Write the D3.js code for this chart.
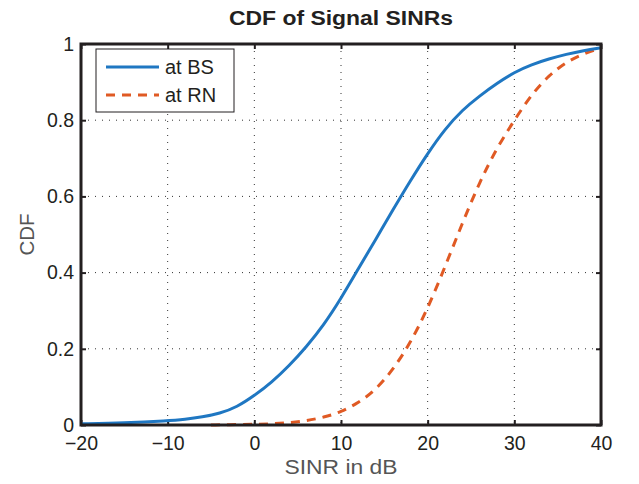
<!DOCTYPE html>
<html><head><meta charset="utf-8">
<script src="https://cdn.jsdelivr.net/npm/d3@7"></script>
<style>body{margin:0;background:#fff;} svg{display:block;}</style>
</head><body><div id="chart"></div>
<script>
const sinrBS = [-20,-15,-10,-8,-6,-4,-2,0,2,4,6,8,10,12,14,16,18,20,22,24,26,28,30,32,34,36,38,40];
const cdfBS  = [0.003,0.005,0.011,0.015,0.021,0.03,0.047,0.077,0.112,0.155,0.205,0.262,0.332,0.41,0.487,0.565,0.641,0.713,0.777,0.827,0.864,0.897,0.926,0.946,0.961,0.973,0.983,0.99];
const sinrRN = [-5,-2,0,2,4,6,8,10,12,14,16,18,20,22,24,26,28,30,32,34,36,38,40];
const cdfRN  = [0,0.001,0.002,0.003,0.006,0.011,0.02,0.034,0.058,0.092,0.145,0.215,0.305,0.415,0.53,0.638,0.728,0.8,0.868,0.918,0.953,0.975,0.99];
const xTicks = [-20,-10,0,10,20,30,40];
const yTicks = [0,0.2,0.4,0.6,0.8,1];
const seriesNames = ["at BS","at RN"];
const titleText = "CDF of Signal SINRs";
const xLabel = "SINR in dB";
const yLabel = "CDF";

const W = 639, H = 484;
const m = {left:81, right:38, top:44, bottom:59};
const iw = W - m.left - m.right, ih = H - m.top - m.bottom;
const font = "'Liberation Sans', Arial, Helvetica, sans-serif";

const svg = d3.select("#chart").append("svg").attr("width",W).attr("height",H)
  .style("font-family", font);
const g = svg.append("g").attr("transform",`translate(${m.left},${m.top})`);

const x = d3.scaleLinear().domain([-20,40]).range([0,iw]);
const y = d3.scaleLinear().domain([0,1]).range([ih,0]);

// grid
g.append("g").selectAll("line").data(xTicks.slice(1,-1)).join("line")
  .attr("x1",d=>x(d)).attr("x2",d=>x(d)).attr("y1",0).attr("y2",ih)
  .attr("stroke","#333").attr("stroke-width",1).attr("stroke-dasharray","1,6");
g.append("g").selectAll("line").data(yTicks.slice(1,-1)).join("line")
  .attr("y1",d=>y(d)).attr("y2",d=>y(d)).attr("x1",0).attr("x2",iw)
  .attr("stroke","#333").attr("stroke-width",1).attr("stroke-dasharray","1,6");

// axes
const fmtX = d => d < 0 ? "\u2212" + Math.abs(d) : String(d);
const xAxis = g.append("g").attr("transform",`translate(0,${ih})`)
  .call(d3.axisBottom(x).tickValues(xTicks).tickFormat(fmtX).tickSizeInner(-5).tickSizeOuter(0).tickPadding(11));
const yAxis = g.append("g")
  .call(d3.axisLeft(y).tickValues(yTicks).tickFormat(d=>d===0?"0":d===1?"1":d3.format(".1f")(d)).tickSizeInner(-5).tickSizeOuter(0).tickPadding(7));
const xTop = g.append("g").call(d3.axisTop(x).tickValues(xTicks).tickFormat("").tickSizeInner(-5).tickSizeOuter(0));
const yRight = g.append("g").attr("transform",`translate(${iw},0)`)
  .call(d3.axisRight(y).tickValues(yTicks).tickFormat("").tickSizeInner(-5).tickSizeOuter(0));
[xAxis,yAxis,xTop,yRight].forEach(a=>{
  a.select(".domain").remove();
  a.selectAll(".tick line").attr("stroke","#231f20").attr("stroke-width",2);
  a.selectAll("text").attr("fill","#231f20").style("font-size","19.5px").style("font-family",font);
});

// lines
const line = d3.line().x(d=>x(d[0])).y(d=>y(d[1])).curve(d3.curveBasis);
g.append("path").datum(sinrRN.map((s,i)=>[s,cdfRN[i]]))
  .attr("d",line).attr("fill","none").attr("stroke","#e05a24").attr("stroke-width",3)
  .attr("stroke-dasharray","9,7");
g.append("path").datum(sinrBS.map((s,i)=>[s,cdfBS[i]]))
  .attr("d",line).attr("fill","none").attr("stroke","#1f77c2").attr("stroke-width",3);

// frame
g.append("rect").attr("x",0).attr("y",0).attr("width",iw).attr("height",ih)
  .attr("fill","none").attr("stroke","#231f20").attr("stroke-width",3);

// legend
const lg = svg.append("g").attr("transform","translate(96,49)");
lg.append("rect").attr("width",138).attr("height",63).attr("fill","#fff")
  .attr("stroke","#231f20").attr("stroke-width",1);
const legItems = [
  {name:seriesNames[0], color:"#1f77c2", dash:null, yy:18},
  {name:seriesNames[1], color:"#e05a24", dash:"9,7", yy:46}
];
legItems.forEach(it=>{
  lg.append("line").attr("x1",10).attr("x2",63).attr("y1",it.yy).attr("y2",it.yy)
    .attr("stroke",it.color).attr("stroke-width",3).attr("stroke-dasharray",it.dash);
  lg.append("text").attr("x",69).attr("y",it.yy+7).text(it.name)
    .attr("fill","#231f20").style("font-size","20px");
});

// title and labels
svg.append("text").attr("x",m.left+iw/2).attr("y",25).attr("text-anchor","middle")
  .style("font-size","20px").style("font-weight","bold").attr("fill","#231f20")
  .attr("textLength",224).attr("lengthAdjust","spacingAndGlyphs").text(titleText);
svg.append("text").attr("x",m.left+iw/2).attr("y",474).attr("text-anchor","middle")
  .style("font-size","20.5px").attr("fill","#555")
  .attr("textLength",113).attr("lengthAdjust","spacingAndGlyphs").text(xLabel);
svg.append("text").attr("transform",`translate(34,${m.top+ih/2}) rotate(-90)`).attr("text-anchor","middle")
  .style("font-size","20.5px").attr("fill","#555").text(yLabel);
</script></body></html>
